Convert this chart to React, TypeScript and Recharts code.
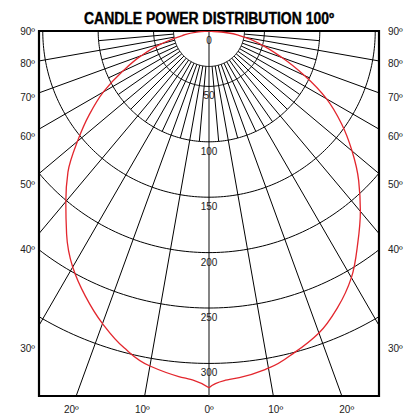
import { ScatterChart, Scatter, XAxis, YAxis, ReferenceLine, ReferenceArea } from "recharts"

// candle power (cd), angle from nadir (left side negative)
const CP_ANGLES = [
  -90, -85, -80, -75, -70, -65, -60, -55, -50, -45, -40, -35, -30, -25, -20, -15, -10, -5, -2.5,
  0, 2.5, 5, 10, 15, 20, 25, 30, 35, 40, 45, 50, 55, 60, 65, 70, 75, 80, 85, 90,
]
const CP_VALUES = [
  0, 11, 25, 44, 65, 86, 110, 132, 155, 180, 201, 224, 246, 264, 281, 296, 307, 313, 315.5,
  322, 315.8, 314, 309, 300, 290, 275, 257, 234, 212.5, 191, 168.5, 146, 122.5, 95, 70, 50, 33, 13, 0,
]

const RINGS = [50, 100, 150, 200, 250, 300]
const RING_LABELS = [0, 50, 100, 150, 200, 250, 300]
const SPOKES = [5, 10, 15, 20, 25, 30, 35, 40, 45, 50, 55, 60, 65, 70, 75, 80, 85]
const SIDE_ANGLES = [90, 80, 70, 60, 50, 40, 30]
const SIDE_LABELS = ["90º", "80º", "70º", "60º", "50º", "40º", "30º"]
const BOTTOM_ANGLES = [-20, -10, 0, 10, 20]
const BOTTOM_LABELS = ["20º", "10º", "0º", "10º", "20º"]

// layout (cd units)
const X_HALF = 153.4
const Y_MAX = 329.4
const HUB = 32
const SHORT_SPOKE = 100
const LONG_SPOKE = 700
const SIDE_REACH = X_HALF + 12
const BOTTOM_DEPTH = Y_MAX + 12

const FONT = "'Liberation Sans', Arial, sans-serif"

const rad = (d: number) => (d * Math.PI) / 180
const polar = (deg: number, r: number) => ({ x: r * Math.sin(rad(deg)), y: r * Math.cos(rad(deg)) })

const arc = (r: number) => {
  const pts = []
  for (let d = -90; d <= 90; d += 1) pts.push(polar(d, r))
  return pts
}

const curvePts = CP_ANGLES.map((a, i) => ({ a, ...polar(a, CP_VALUES[i]) }))
// each half runs from the origin down to nadir, so y grows along it
const curveLeft = curvePts.filter((p) => p.a <= 0)
const curveRight = curvePts.filter((p) => p.a >= 0).reverse()

const ringLabelData = RING_LABELS.map((v) => ({ x: 0, y: v, label: String(v) }))
const sideTicks = SIDE_ANGLES.map((a) => SIDE_REACH / Math.tan(rad(a)))
const bottomTicks = BOTTOM_ANGLES.map((a) => BOTTOM_DEPTH * Math.tan(rad(a)))

const spokes = SPOKES.flatMap((a) => {
  const len = a % 10 === 0 ? LONG_SPOKE : SHORT_SPOKE
  return [-a, a].map((s) => [polar(s, HUB), polar(s, len)])
})

const NoDot = () => <g />

const RingLabel = (p: any) => (
  <text x={p.cx} y={p.cy + 13} textAnchor="middle" fontSize={10} fill="#222" fontFamily={FONT}>
    {p.payload.label}
  </text>
)

const tickStyle = { fill: "#222", fontSize: 10, fontFamily: FONT }
const redLine = { stroke: "#e3262d", strokeWidth: 1.3 }
const gridLine = { stroke: "#000", strokeWidth: 1 }

export default function App() {
  return (
    <div style={{ position: "absolute", left: 0, top: 0, width: 413, height: 415, background: "#fff" }}>
      <svg width={413} height={30} style={{ position: "absolute", left: 0, top: 0 }}>
        <text
          x={209}
          y={23.5}
          textAnchor="middle"
          fontSize={16}
          fontWeight="bold"
          fontFamily="'Liberation Sans Narrow', 'Liberation Sans', Arial, sans-serif"
          textLength={250}
          lengthAdjust="spacingAndGlyphs"
          fill="#000"
          stroke="#000"
          strokeWidth={0.4}
        >
          CANDLE POWER DISTRIBUTION 100º
        </text>
      </svg>
      <ScatterChart width={413} height={415} margin={{ top: 31, right: 4, bottom: 0, left: 9 }}>
        <XAxis
          type="number"
          dataKey="x"
          domain={[-X_HALF, X_HALF]}
          allowDataOverflow
          ticks={bottomTicks}
          interval={0}
          tickFormatter={(_v: number, i: number) => BOTTOM_LABELS[i]}
          axisLine={false}
          tickLine={false}
          tickSize={0}
          tickMargin={10}
          height={19}
          tick={tickStyle}
        />
        <YAxis
          type="number"
          dataKey="y"
          domain={[0, Y_MAX]}
          reversed
          allowDataOverflow
          ticks={sideTicks}
          interval={0}
          tickFormatter={(_v: number, i: number) => SIDE_LABELS[i]}
          axisLine={false}
          tickLine={false}
          tickSize={0}
          tickMargin={4}
          width={30}
          tick={tickStyle}
        />
        <YAxis
          yAxisId="r"
          orientation="right"
          type="number"
          dataKey="y"
          domain={[0, Y_MAX]}
          reversed
          allowDataOverflow
          ticks={sideTicks}
          interval={0}
          tickFormatter={(_v: number, i: number) => SIDE_LABELS[i]}
          axisLine={false}
          tickLine={false}
          tickSize={0}
          tickMargin={9}
          width={30}
          tick={tickStyle}
        />

        {spokes.map((seg, i) => (
          <ReferenceLine key={`spoke-${i}`} segment={seg} ifOverflow="hidden" stroke="#000" strokeWidth={1} />
        ))}
        <ReferenceLine x={0} stroke="#333" strokeWidth={1.2} />

        <Scatter data={arc(HUB)} line={gridLine} shape={NoDot} isAnimationActive={false} />
        {RINGS.map((r) => (
          <Scatter key={`ring-${r}`} data={arc(r)} line={gridLine} shape={NoDot} isAnimationActive={false} />
        ))}

        <Scatter data={curveLeft} line={redLine} lineJointType="monotoneY" shape={NoDot} isAnimationActive={false} />
        <Scatter data={curveRight} line={redLine} lineJointType="monotoneY" shape={NoDot} isAnimationActive={false} />
        <Scatter data={ringLabelData} shape={RingLabel} isAnimationActive={false} />

        <ReferenceArea
          x1={-X_HALF}
          x2={X_HALF}
          y1={0}
          y2={Y_MAX}
          fill="none"
          fillOpacity={0}
          stroke="#000"
          strokeWidth={2.2}
          ifOverflow="visible"
        />
      </ScatterChart>
    </div>
  )
}
